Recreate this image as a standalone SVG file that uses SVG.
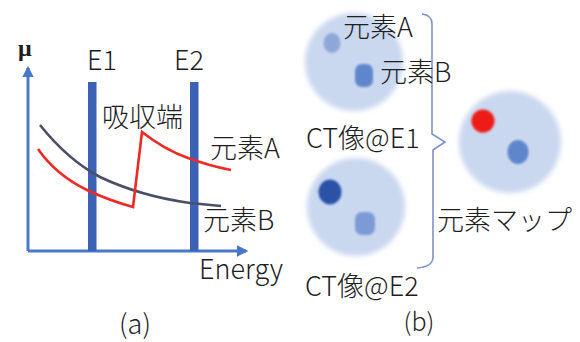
<svg xmlns="http://www.w3.org/2000/svg" width="580" height="342" viewBox="0 0 580 342">
  <defs>
    <style>
      .t { font-family: "Noto Sans CJK JP", "Noto Sans", sans-serif; font-size: 27px; font-weight: 300; fill: #1e1e1e; }
      .axis { stroke: #4a78c8; stroke-width: 3; fill: none; }
      .bar { fill: #3b62b4; }
      .curveA { stroke: #ee2a24; stroke-width: 2.6; fill: none; stroke-linejoin: miter; }
      .curveB { stroke: #4b4e68; stroke-width: 2.6; fill: none; }
      .brace { stroke: #7f93c6; stroke-width: 1.6; fill: none; }
      .disc { fill: #c9d7ef; }
    </style>
    <filter id="soft" x="-30%" y="-30%" width="160%" height="160%">
      <feGaussianBlur stdDeviation="2.6"/>
    </filter>
    <filter id="softer" x="-50%" y="-50%" width="200%" height="200%">
      <feGaussianBlur stdDeviation="1"/>
    </filter>
    <marker id="arrow" viewBox="0 0 10 10" refX="8" refY="5" markerWidth="3.8" markerHeight="3.8" orient="auto-start-reverse" markerUnits="strokeWidth">
      <path d="M0,0 L10,5 L0,10 Z" fill="#4a78c8"/>
    </marker>
  </defs>

  <!-- (a) absorption curves -->
  <g id="chart">
    <g id="axes">
      <path class="axis" d="M28,251 L28,68" marker-end="url(#arrow)"/>
      <path class="axis" d="M28,251 L246,251" marker-end="url(#arrow)"/>
    </g>
    <g id="energy-bars">
      <rect class="bar" x="88" y="82" width="8.5" height="169"/>
      <rect class="bar" x="190" y="82" width="8.5" height="169"/>
    </g>
    <g id="curve-B">
      <path class="curveB" d="M40,125 Q68,160 100,177 Q140,196 190,203 L221,206"/>
    </g>
    <g id="curve-A">
      <path class="curveA" d="M38,149 Q56,175 87,190 Q108,200 133,207 L142,132 Q165,150 188,158 Q210,166 231,170"/>
    </g>
    <text class="t" x="18" y="56" style="font-family:'Liberation Serif',serif;font-weight:bold;font-size:24px">μ</text>
    <text class="t" x="102" y="70" text-anchor="middle">E1</text>
    <text class="t" x="189" y="70" text-anchor="middle">E2</text>
    <text class="t" x="102" y="127">吸収端</text>
    <text class="t" x="210" y="158">元素A</text>
    <text class="t" x="203" y="230">元素B</text>
    <text class="t" x="199" y="279">Energy</text>
    <text class="t" x="135" y="334" text-anchor="middle">(a)</text>
  </g>

  <!-- (b) CT images and element map -->
  <g id="ct-e1">
    <circle class="disc" cx="354" cy="62" r="49" filter="url(#soft)"/>
    <ellipse cx="332" cy="43" rx="8.5" ry="10" fill="#8ea7d9" filter="url(#softer)"/>
    <rect x="355" y="64" width="18" height="23" rx="7" fill="#5f86cc" filter="url(#softer)"/>
  </g>
  <g id="ct-e2">
    <circle class="disc" cx="356" cy="207" r="49" filter="url(#soft)"/>
    <ellipse cx="330" cy="192" rx="11.5" ry="12.5" fill="#2b53a6" filter="url(#softer)"/>
    <rect x="355" y="212" width="20" height="23" rx="7" fill="#7c9bd6" filter="url(#softer)"/>
  </g>
  <g id="element-map">
    <circle class="disc" cx="510" cy="142" r="51" filter="url(#soft)"/>
    <circle cx="483" cy="121" r="11.5" fill="#ee1c18" filter="url(#softer)"/>
    <ellipse cx="518" cy="152" rx="10.5" ry="12" fill="#5f86cc" filter="url(#softer)"/>
  </g>

  <g id="connectors">
    <path class="brace" d="M422,14 Q432,15 432,24 L432,134 L445,142 L433,150 L433,258 Q432,267 417,268"/>
  </g>

  <g id="labels-b">
    <text class="t" x="343" y="37">元素A</text>
    <text class="t" x="380" y="82">元素B</text>
    <text class="t" x="306" y="148">CT像@E1</text>
    <text class="t" x="437" y="230">元素マップ</text>
    <text class="t" x="305" y="296">CT像@E2</text>
    <text class="t" x="419" y="331" text-anchor="middle" style="font-size:25px">(b)</text>
  </g>
</svg>
